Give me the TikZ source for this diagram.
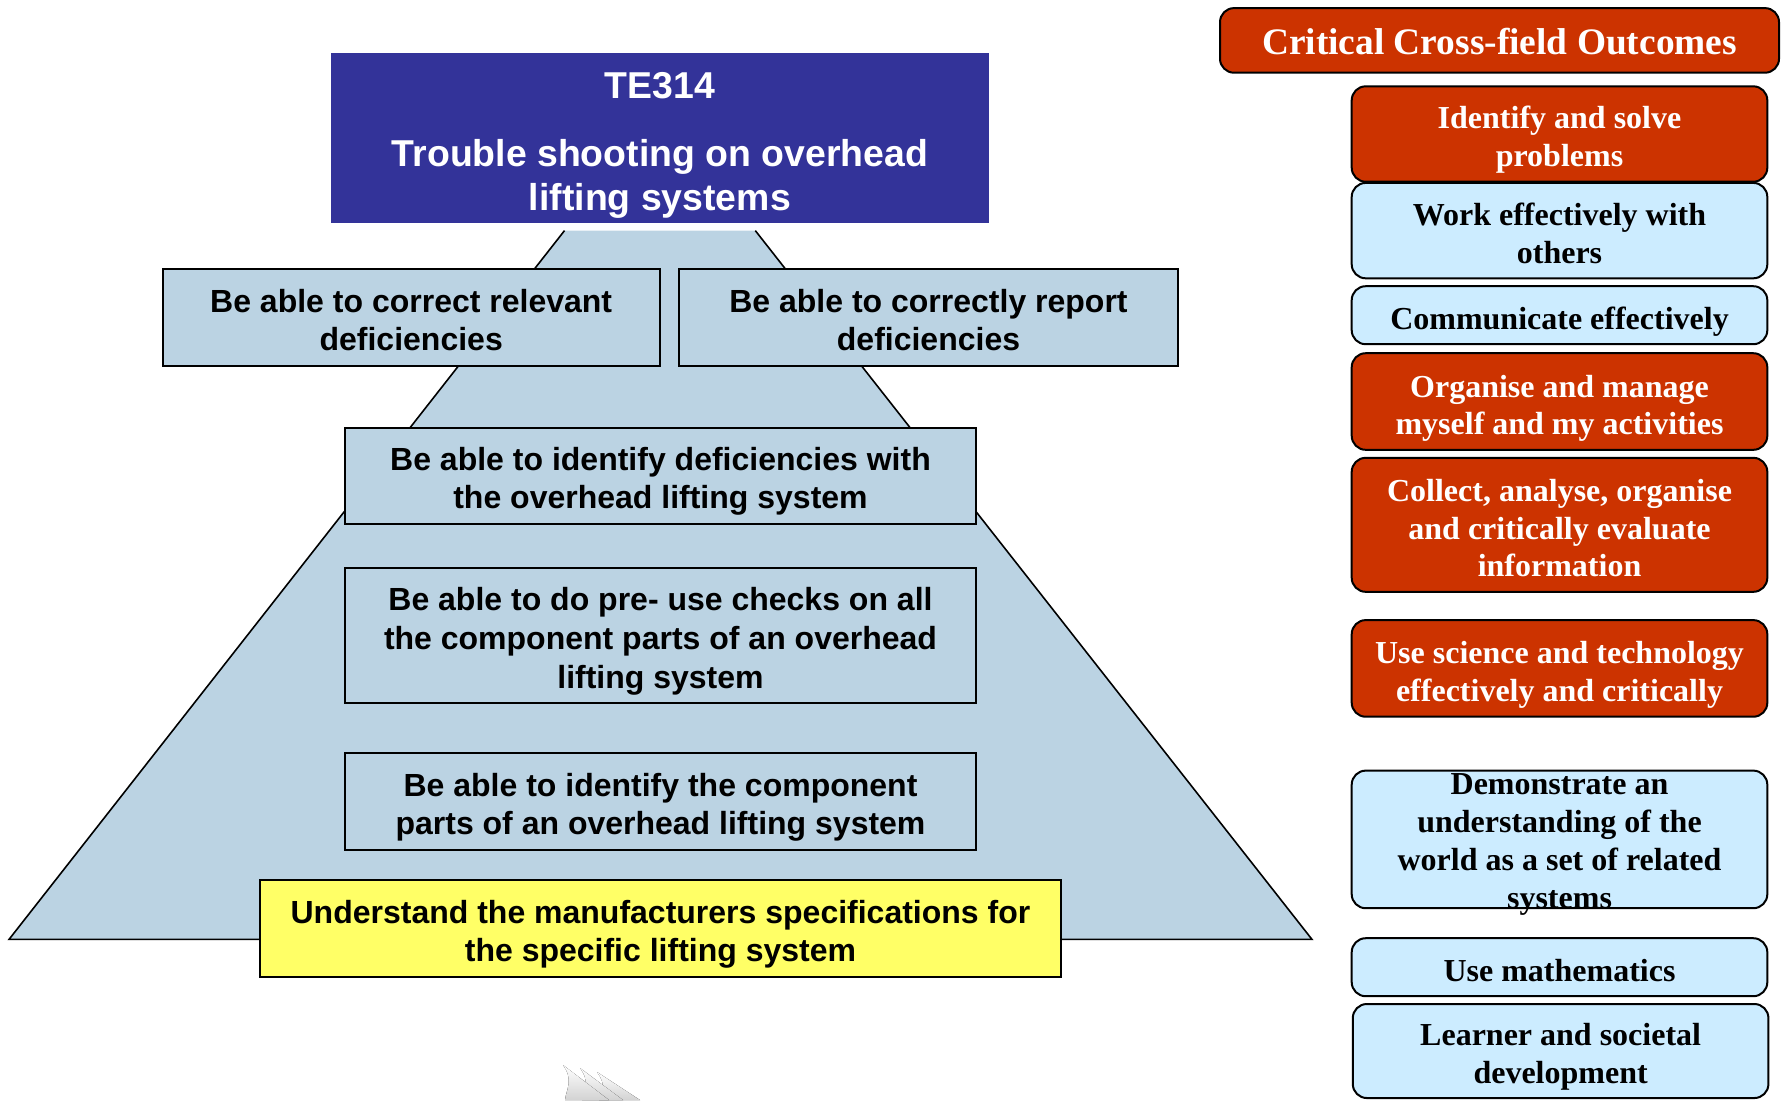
\documentclass[tikz,border=0pt]{standalone}
\usepackage{fontspec}
\setmainfont{Liberation Serif}
\newfontfamily\arialfont{Liberation Sans}
\usetikzlibrary{positioning}

\definecolor{titleblue}{RGB}{51,51,153}
\definecolor{pyrfill}{RGB}{187,211,227}
\definecolor{goalyellow}{RGB}{255,255,102}
\definecolor{ccored}{RGB}{204,51,0}
\definecolor{ccoblue}{RGB}{204,236,255}

\tikzset{
	goal/.style={draw=black, line width=1pt, fill=pyrfill, align=center, inner sep=0pt, text depth=7.5pt,
		font=\arialfont\bfseries\fontsize{16}{19.3}\selectfont},
	cco/.style={draw=black, line width=1pt, rounded corners=7pt, align=center, inner sep=0pt, text depth=7.5pt,
		minimum width=207.8pt, font=\bfseries\fontsize{16}{18.9}\selectfont},
	ccored/.style={cco, fill=ccored, text=white},
	ccoblue/.style={cco, fill=ccoblue, text=black},
	fin/.style={shading=axis, top color=white, bottom color=gray!35, draw=none}
}

\begin{document}
\begin{tikzpicture}[x=0.5pt, y=-0.5pt]
	\useasboundingbox (0,0) rectangle (1781,1100);
	% pyramid
	\fill[pyrfill] (564.5,230.6) -- (755.3,230.6) -- (1311.9,939.3) -- (9.1,939.3) -- cycle;
	\draw[line width=0.8pt] (564.5,230.6) -- (9.1,939.3) -- (1311.9,939.3) -- (755.3,230.6);
	% title
	\node[fill=titleblue, text=white, align=center, inner sep=0pt, minimum width=329.4pt, minimum height=84.6pt,
		text height=78.5pt, text depth=6.1pt, font=\arialfont\bfseries\fontsize{18.7}{22}\selectfont] (title) at (659.9,138)
		{TE314\\[12pt]Trouble shooting on overhead\\lifting systems};
	% goals
	\node[goal, minimum width=248.7pt, minimum height=48.2pt, text height=40.7pt] (correct) at (411.2,317.5)
		{Be able to correct relevant\\deficiencies};
	\node[goal, minimum width=249.3pt, minimum height=48.2pt, text height=40.7pt] (report) at (928.5,317.5)
		{Be able to correctly report\\deficiencies};
	\node[goal, minimum width=315.2pt, minimum height=47.7pt, text height=40.2pt] (identify) at (660.5,475.9)
		{Be able to identify deficiencies with\\the overhead lifting system};
	\node[goal, minimum width=315.2pt, minimum height=67.6pt, text height=60.1pt] (checks) at (660.5,635.5)
		{Be able to do pre- use checks on all\\the component parts of an overhead\\lifting system};
	\node[goal, minimum width=315.2pt, minimum height=48.3pt, text height=40.8pt] (parts) at (660.5,801.3)
		{Be able to identify the component\\parts of an overhead lifting system};
	\node[goal, fill=goalyellow, minimum width=400.3pt, minimum height=48.3pt, text height=40.8pt] (specs) at (660.5,928.5)
		{Understand the manufacturers specifications for\\the specific lifting system};
	% critical cross-field outcomes
	\node[ccored, minimum width=279.5pt, minimum height=32.3pt, text height=23.3pt, text depth=9pt,
		font=\bfseries\fontsize{18.7}{20}\selectfont] (head) at (1499.5,40.4)
		{Critical Cross-field Outcomes};
	\node[ccored, minimum height=47.7pt, text height=40.2pt] (solve) at (1559.5,134) {Identify and solve\\problems};
	\node[ccoblue, minimum height=47.7pt, text height=40.2pt] (team) at (1559.5,230.6) {Work effectively with\\others};
	\node[ccoblue, minimum height=29pt, text height=21.5pt] (comm) at (1559.5,315.2) {Communicate effectively};
	\node[ccored, minimum height=48.3pt, text height=40.8pt] (manage) at (1559.5,401.5) {Organise and manage\\myself and my activities};
	\node[ccored, minimum height=67pt, text height=59.5pt] (info) at (1559.5,524.8) {Collect, analyse, organise\\and critically evaluate\\information};
	\node[ccored, minimum height=48.3pt, text height=40.8pt] (science) at (1559.5,668.4) {Use science and technology\\effectively and critically};
	\node[ccoblue, minimum height=67pt, text height=68.8pt, text depth=-1.8pt] (world) at (1559.5,839.4)
		{Demonstrate an\\understanding of the\\world as a set of related\\systems};
	\node[ccoblue, minimum height=29pt, text height=21.5pt] (maths) at (1559.5,967.2) {Use mathematics};
	\node[ccoblue, minimum height=47pt, text height=39.5pt] (society) at (1560.6,1051) {Learner and societal\\development};
	% faint fins at the bottom
	\foreach \dx/\dy/\w in {34/7/41, 17/3/41, 0/0/44}
		\fill[fin] (563+\dx,1065+\dy) .. controls (574+\dx,1080+\dy) and (566+\dx,1090) .. (565+\dx,1100)
			-- (565+\dx+\w,1100) -- cycle;
\end{tikzpicture}
\end{document}
